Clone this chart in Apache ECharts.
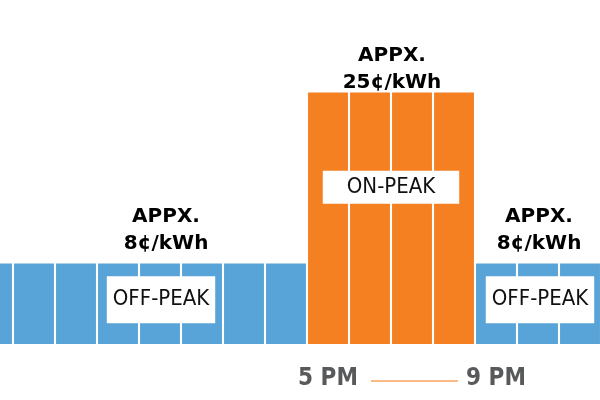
<!DOCTYPE html>
<html>
<head>
<meta charset="utf-8">
<script src="https://cdn.jsdelivr.net/npm/echarts@6/dist/echarts.min.js"></script>
<style>
  html, body { margin: 0; padding: 0; background: #fff; }
  #main { width: 600px; height: 400px; }
</style>
</head>
<body>
<div id="main"></div>
<script>
// hourly slots, 9 AM .. 11 PM
var hours = ['9 AM','10 AM','11 AM','12 PM','1 PM','2 PM','3 PM','4 PM',
             '5 PM','6 PM','7 PM','8 PM','9 PM','10 PM','11 PM'];
// price per hour, cents/kWh
var prices = [8, 8, 8, 8, 8, 8, 8, 8, 25, 25, 25, 25, 8, 8, 8];
var peakFlags = [0, 0, 0, 0, 0, 0, 0, 0, 1, 1, 1, 1, 0, 0, 0];
var shownTicks = ['5 PM', '9 PM'];

var BLUE = '#58a3d7';
var ORANGE = '#f58022';

// which bar carries which text (index -> offset)
var priceLabelAt = { 4: [6, 0], 9: [22, 0], 13: [1, 0] };
var priceLabelDist = { 4: 6, 9: -4, 13: 6 };
var boxLabelAt = { 4: [1, -4], 9: [21, -31], 13: [2, -4] };

var bars = prices.map(function(v, i){
    var item = { value: v, itemStyle: { color: peakFlags[i] ? ORANGE : BLUE } };
    if (priceLabelAt[i]) {
        item.label = {
            show: true,
            position: 'top',
            distance: priceLabelDist[i],
            offset: priceLabelAt[i],
            formatter: 'APPX.\n' + v + '¢/kWh',
            fontFamily: 'DejaVu Sans',
            fontWeight: 'bold',
            fontSize: 20,
            lineHeight: 27,
            color: '#000'
        };
    }
    return item;
});

var boxes = prices.map(function(v, i){
    var item = { value: v };
    if (boxLabelAt[i]) {
        var peak = peakFlags[i];
        item.label = {
            show: true,
            position: 'inside',
            offset: boxLabelAt[i],
            formatter: peak ? 'ON-PEAK' : 'OFF-PEAK',
            fontFamily: 'DejaVu Sans Condensed',
            fontSize: 22,
            lineHeight: 25,
            color: '#111',
            backgroundColor: '#fff',
            padding: peak ? [4, 24, 4, 24] : [11, 6, 11, 6]
        };
    }
    return item;
});

var chart = echarts.init(document.getElementById('main'));
chart.setOption({
    animation: false,
    grid: { left: -29, right: -1, top: 92.5, bottom: 56, outerBoundsMode: 'none', containLabel: false },
    xAxis: {
        type: 'category',
        data: hours,
        axisLine: { show: false },
        axisTick: { show: false },
        axisLabel: {
            interval: function(i, name){ return shownTicks.indexOf(name) >= 0; },
            margin: 23,
            fontFamily: 'DejaVu Sans Condensed',
            fontWeight: 'bold',
            fontSize: 24,
            color: '#58595b'
        }
    },
    yAxis: { type: 'value', min: 0, max: 25, show: false },
    series: [
        {
            type: 'bar',
            data: bars,
            barCategoryGap: '5%',
            barGap: '-100%'
        },
        {
            type: 'bar',
            data: boxes,
            barCategoryGap: '5%',
            barGap: '-100%',
            itemStyle: { color: 'rgba(0,0,0,0)' },
            silent: true
        }
    ],
    graphic: [{
        type: 'line',
        shape: { x1: 371, y1: 381, x2: 458, y2: 381 },
        style: { stroke: '#f7a35c', lineWidth: 1.5 }
    }]
});
</script>
</body>
</html>
